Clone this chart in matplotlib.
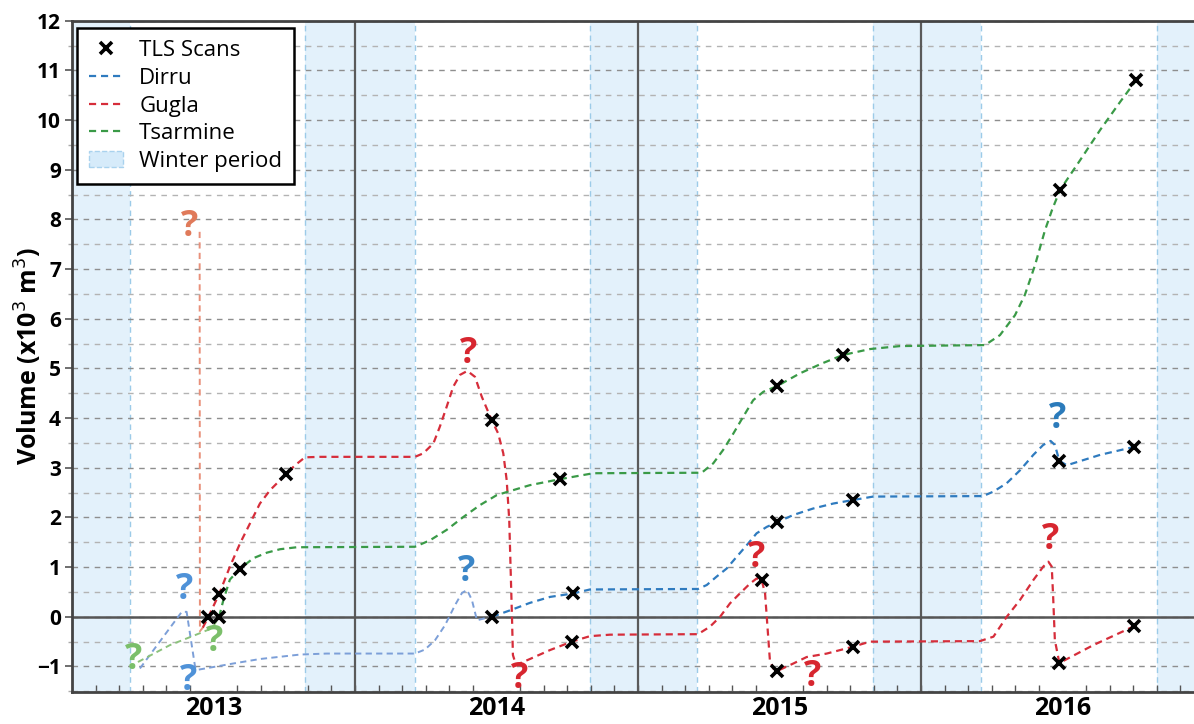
import matplotlib
matplotlib.use("Agg")
import matplotlib.pyplot as plt
from matplotlib.lines import Line2D
from matplotlib.patches import Patch

plt.rcParams['font.family'] = ['Open Sans', 'DejaVu Sans']

# ---------------- data (decimal years, volume x10^3 m^3) ----------------
winters = [(2013.000, 2013.205), (2013.823, 2014.212), (2014.830, 2015.208),
           (2015.830, 2016.212), (2016.834, 2017.200)]
year_lines = [2014, 2015, 2016]

# Dirru (blue)
dirru_faded_t = [2013.240, 2013.388, 2013.405, 2013.435, 2013.441, 2013.570, 2013.664,
                 2013.806, 2013.900, 2014.212, 2014.247, 2014.283, 2014.318, 2014.353,
                 2014.378, 2014.396, 2014.413, 2014.431, 2014.459, 2014.484]
dirru_faded_v = [-1.04, 0.10, 0.10, -1.01, -1.07, -0.94, -0.85,
                 -0.76, -0.74, -0.74, -0.66, -0.47, -0.17, 0.23,
                 0.48, 0.54, 0.34, -0.07, -0.03, 0.00]
dirru_t = [2014.484, 2014.548, 2014.618, 2014.689, 2014.771, 2014.830, 2015.212,
           2015.243, 2015.278, 2015.313, 2015.349, 2015.384, 2015.419, 2015.455,
           2015.490, 2015.549, 2015.619, 2015.690, 2015.759, 2015.831, 2016.219,
           2016.256, 2016.303, 2016.350, 2016.397, 2016.432, 2016.458, 2016.473,
           2016.489, 2016.515, 2016.633, 2016.753]
dirru_v = [0.00, 0.13, 0.28, 0.40, 0.47, 0.55, 0.56,
           0.64, 0.81, 0.97, 1.21, 1.44, 1.68, 1.81,
           1.90, 2.05, 2.18, 2.28, 2.35, 2.42, 2.43,
           2.52, 2.69, 2.95, 3.26, 3.46, 3.54, 3.46,
           3.14, 3.05, 3.26, 3.42]
dirru_scan_t = [2014.484, 2014.771, 2015.490, 2015.759, 2016.489, 2016.753]
dirru_scan_v = [0.00, 0.47, 1.90, 2.35, 3.14, 3.42]

# Gugla (red)
gugla_faded_t = [2013.451, 2013.452, 2013.462]
gugla_faded_v = [7.75, -0.29, -0.22]
gugla_t = [2013.462, 2013.482, 2013.520, 2013.558, 2013.594, 2013.629, 2013.664,
           2013.700, 2013.756, 2013.788, 2013.823, 2013.876, 2014.212, 2014.241,
           2014.277, 2014.300, 2014.324, 2014.347, 2014.371, 2014.397, 2014.424,
           2014.448, 2014.483, 2014.506, 2014.524, 2014.536, 2014.545, 2014.550,
           2014.555, 2014.558, 2014.569, 2014.618, 2014.689, 2014.766, 2014.830,
           2014.901, 2015.212, 2015.254, 2015.290, 2015.325, 2015.360, 2015.396,
           2015.419, 2015.437, 2015.449, 2015.460, 2015.466, 2015.478, 2015.492,
           2015.549, 2015.596, 2015.667, 2015.761, 2015.820, 2016.208, 2016.256,
           2016.303, 2016.350, 2016.397, 2016.432, 2016.450, 2016.462, 2016.467,
           2016.473, 2016.489, 2016.609, 2016.753]
gugla_v = [-0.22, 0.00, 0.46, 1.01, 1.48, 1.88, 2.28,
           2.55, 2.87, 3.05, 3.21, 3.22, 3.22, 3.29,
           3.49, 3.83, 4.23, 4.63, 4.87, 4.95, 4.83,
           4.43, 3.96, 3.69, 3.29, 2.75, 1.95, 0.94,
           -0.07, -0.77, -0.97, -0.85, -0.67, -0.50, -0.39,
           -0.36, -0.35, -0.20, 0.00, 0.27, 0.47, 0.67,
           0.77, 0.74, 0.47, -0.40, -0.87, -1.04, -1.09,
           -0.94, -0.81, -0.74, -0.60, -0.50, -0.49, -0.40,
           0.00, 0.34, 0.74, 1.01, 1.11, 1.01, 0.40,
           -0.47, -0.93, -0.57, -0.19]
gugla_scan_t = [2013.482, 2013.520, 2013.756, 2014.483, 2014.766, 2015.437,
                2015.492, 2015.761, 2016.489, 2016.753]
gugla_scan_v = [0.00, 0.46, 2.87, 3.96, -0.50, 0.74, -1.09, -0.60, -0.93, -0.19]

# Tsarmine (green)
tsar_faded_t = [2013.233, 2013.346, 2013.452, 2013.495, 2013.520]
tsar_faded_v = [-0.91, -0.57, -0.33, -0.23, 0.00]
tsar_t = [2013.520, 2013.535, 2013.558, 2013.594, 2013.641, 2013.688, 2013.735,
          2013.794, 2014.212, 2014.265, 2014.324, 2014.383, 2014.442, 2014.501,
          2014.559, 2014.618, 2014.724, 2014.842, 2015.225, 2015.266, 2015.301,
          2015.337, 2015.372, 2015.407, 2015.443, 2015.490, 2015.572, 2015.650,
          2015.724, 2015.820, 2015.926, 2016.226, 2016.279, 2016.332, 2016.367,
          2016.403, 2016.438, 2016.463, 2016.491, 2016.562, 2016.633, 2016.703,
          2016.760]
tsar_v = [0.00, 0.34, 0.75, 0.97, 1.18, 1.29, 1.36,
          1.40, 1.41, 1.54, 1.75, 2.01, 2.25, 2.45,
          2.55, 2.65, 2.77, 2.89, 2.90, 3.09, 3.36,
          3.69, 4.03, 4.36, 4.53, 4.64, 4.90, 5.10,
          5.27, 5.39, 5.45, 5.47, 5.67, 6.07, 6.48,
          7.08, 7.78, 8.19, 8.59, 9.19, 9.80, 10.36,
          10.80]
tsar_scan_t = [2013.520, 2013.594, 2014.724, 2015.490, 2015.724, 2016.491, 2016.760]
tsar_scan_v = [0.00, 0.97, 2.77, 4.64, 5.27, 8.59, 10.80]

# Question marks: (t, v, colour)
q_t = [2013.216, 2013.505, 2013.399, 2013.411, 2013.417, 2014.395, 2014.400,
       2014.583, 2015.419, 2015.617, 2016.482, 2016.458]
q_v = [-0.87, -0.51, 0.54, -1.30, 7.85, 0.90, 5.30,
       -1.26, 1.18, -1.21, 3.99, 1.54]
q_c = ['#7bbf6a', '#7bbf6a', '#4f92d8', '#4f92d8', '#e07a5a', '#3a86c8', '#d7262f',
       '#d7262f', '#d7262f', '#d7262f', '#2b7bbb', '#d7262f']

BLUE = '#2f7bbf'
RED = '#d62d3a'
GREEN = '#3a9a47'
BLUE_F = '#7c9fd8'
RED_F = '#e8907a'
GREEN_F = '#8cc27c'

# ---------------- figure ----------------
fig = plt.figure(figsize=(11.94, 7.24), dpi=100)
ax = fig.add_axes([72 / 1194, 1 - 692.3 / 724, 1 - 72 / 1194, (692.3 - 20.7) / 724])
ax.set_xlim(2013.0, 2013.0 + (1194 - 72) / 283)
ax.set_ylim(-1.52, 12)

for a, b in winters:
    ax.axvspan(a, b, facecolor='#e3f1fb', edgecolor='none', zorder=0.1)
    for e in (a, b):
        ax.axvline(e, color='#9ccbe8', lw=1.0, ls=(0, (4, 3)), zorder=0.3)

ax.set_axisbelow(True)
ax.set_yticks(range(-1, 13))
ax.set_yticks([i + 0.5 for i in range(-2, 12)], minor=True)
ax.grid(axis='y', which='major', color='#8e8e8e', lw=1.0, ls=(0, (4, 4)))
ax.grid(axis='y', which='minor', color='#b3b3b3', lw=1.0, ls=(0, (4, 4)))

for yl in year_lines:
    ax.axvline(yl, color='#5a5a5a', lw=1.6, zorder=0.6)
ax.axhline(0, color='#555555', lw=1.8, zorder=0.6)

dash = (3.2, 2.2)
ax.plot(dirru_faded_t, dirru_faded_v, color=BLUE_F, lw=1.4, ls=(0, dash), zorder=2)
ax.plot(gugla_faded_t, gugla_faded_v, color=RED_F, lw=1.4, ls=(0, dash), zorder=2)
ax.plot(tsar_faded_t, tsar_faded_v, color=GREEN_F, lw=1.4, ls=(0, dash), zorder=2)
ax.plot(dirru_t, dirru_v, color=BLUE, lw=1.6, ls=(0, dash), zorder=3)
ax.plot(gugla_t, gugla_v, color=RED, lw=1.6, ls=(0, dash), zorder=3)
ax.plot(tsar_t, tsar_v, color=GREEN, lw=1.6, ls=(0, dash), zorder=3)

for st, sv in ((dirru_scan_t, dirru_scan_v), (gugla_scan_t, gugla_scan_v),
               (tsar_scan_t, tsar_scan_v)):
    ax.plot(st, sv, ls='none', marker='x', color='black', ms=8, mew=2.6, zorder=5)

for t, v, c in zip(q_t, q_v, q_c):
    ax.text(t, v, '?', color=c, fontsize=26, fontweight='bold', ha='center',
            va='center', zorder=4, clip_on=True)

# axes styling
for s in ('left', 'bottom', 'top'):
    ax.spines[s].set_color('#444444')
    ax.spines[s].set_linewidth(2.0)
ax.spines['right'].set_visible(False)

ax.set_xticks([2013.5, 2014.5, 2015.5, 2016.5])
ax.set_xticklabels(['2013', '2014', '2015', '2016'])
ax.set_xticks([2013 + m / 12 for m in range(1, 48)], minor=True)
ax.tick_params(axis='x', which='major', length=0, labelsize=18, pad=3)
ax.tick_params(axis='x', which='minor', direction='in', length=5, width=1, color='#555555')
ax.tick_params(axis='y', which='major', direction='out', length=5, width=1.2,
               color='#555555', labelsize=15, pad=3)
ax.tick_params(axis='y', which='minor', direction='out', length=3, width=1, color='#aaaaaa')
for lab in ax.get_xticklabels() + ax.get_yticklabels():
    lab.set_fontweight('bold')

ax.set_ylabel('Volume (x10$^{3}$ m$^{3}$)', fontsize=18, fontweight='bold')
ax.yaxis.set_label_coords(-(72 - 44) / 1122, 0.5)

handles = [
    Line2D([], [], ls='none', marker='x', color='black', ms=8, mew=2.6),
    Line2D([], [], color=BLUE, lw=1.6, ls=(0, dash)),
    Line2D([], [], color=RED, lw=1.6, ls=(0, dash)),
    Line2D([], [], color=GREEN, lw=1.6, ls=(0, dash)),
    Patch(facecolor='#d6ebfa', edgecolor='#a9d2ee', ls='--', lw=1),
]
labels = ['TLS Scans', 'Dirru', 'Gugla', 'Tsarmine', 'Winter period']
leg = ax.legend(handles, labels, loc='upper left',
                bbox_to_anchor=(77 / 1194, 1 - 28 / 724), bbox_transform=fig.transFigure,
                fontsize=16, frameon=True, fancybox=False, framealpha=1,
                edgecolor='black', borderpad=0.55, labelspacing=0.3,
                handlelength=1.5, handletextpad=0.75, borderaxespad=0)
leg.get_frame().set_linewidth(1.8)
leg.set_zorder(10)

fig.savefig('out.png', dpi=100)
